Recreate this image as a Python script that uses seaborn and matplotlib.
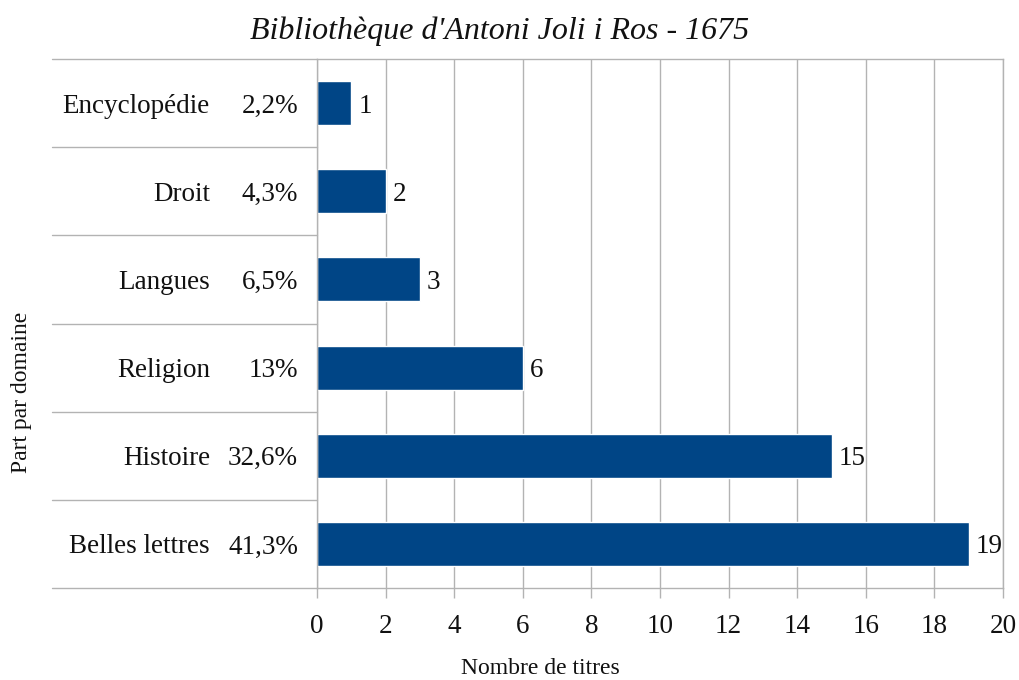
import matplotlib
matplotlib.use("Agg")
import matplotlib.pyplot as plt
import matplotlib.transforms as mtransforms
from matplotlib.lines import Line2D
import seaborn as sns
import pandas as pd

categories = ["Encyclopédie", "Droit", "Langues", "Religion", "Histoire", "Belles lettres"]
percents = ["2,2%", "4,3%", "6,5%", "13%", "32,6%", "41,3%"]
counts = [1, 2, 3, 6, 15, 19]
xticks = [0, 2, 4, 6, 8, 10, 12, 14, 16, 18, 20]

sns.set_theme(style="white")
plt.rcParams['font.family'] = ['Liberation Serif', 'DejaVu Serif']

W, H = 1019, 680
fig = plt.figure(figsize=(W / 100, H / 100), dpi=100)
L, R, T, B = 317, 1003, 59, 588
ax = fig.add_axes([L / W, 1 - B / H, (R - L) / W, (B - T) / H])

df = pd.DataFrame({"cat": categories, "n": counts})
sns.barplot(data=df, y="cat", x="n", orient="h", color="#004586", width=0.5,
            saturation=1, ax=ax, order=categories)

grid_col = "#b3b3b3"
fs = 19.5
ax.set_xlim(0, 20)
ax.set_ylim(len(categories) - 0.5, -0.5)
ax.set_xticks(xticks)
ax.set_xticklabels([str(v) for v in xticks], fontsize=fs, color="#111111")
ax.tick_params(axis="x", length=7, width=1, color=grid_col, pad=12, bottom=True)
ax.set_yticks([])
ax.set_xlabel("")
ax.set_ylabel("")
ax.grid(axis="x", color=grid_col, linewidth=1)
ax.set_axisbelow(True)
for s in ax.spines.values():
    s.set_color(grid_col)
    s.set_linewidth(1)

down = mtransforms.ScaledTranslation(0, -3 / 100, fig.dpi_scale_trans)
label_off = mtransforms.ScaledTranslation(7 / 100, -3 / 100, fig.dpi_scale_trans)

# bar value labels
for i, v in enumerate(counts):
    ax.text(v, i, str(v), transform=ax.transData + label_off, ha="left", va="center",
            fontsize=fs, color="#111111")

# category labels (two levels) and separators
trans = mtransforms.blended_transform_factory(ax.transAxes, ax.transData)
x_name = (210 - L) / (R - L)
x_pct = (298 - L) / (R - L)
x_sep = (52 - L) / (R - L)
for i, (name, pct) in enumerate(zip(categories, percents)):
    ax.text(x_name, i, name, transform=trans + down, ha="right", va="center", fontsize=fs, color="#111111")
    ax.text(x_pct, i, pct, transform=trans + down, ha="right", va="center", fontsize=fs, color="#111111")
for b in [k - 0.5 for k in range(len(categories) + 1)]:
    ax.add_line(Line2D([x_sep, 0], [b, b], transform=trans, color=grid_col, linewidth=1, clip_on=False))

fig.text(500 / W, 1 - 31 / H, "Bibliothèque d'Antoni Joli i Ros - 1675", ha="center", va="center",
         fontsize=23, style="italic", color="#111111")
fig.text(540 / W, 1 - 669 / H, "Nombre de titres", ha="center", va="center", fontsize=17, color="#111111")
fig.text(22 / W, 1 - 392 / H, "Part par domaine", ha="center", va="center", rotation=90,
         fontsize=17, color="#111111")

fig.savefig("out.png", dpi=100)
